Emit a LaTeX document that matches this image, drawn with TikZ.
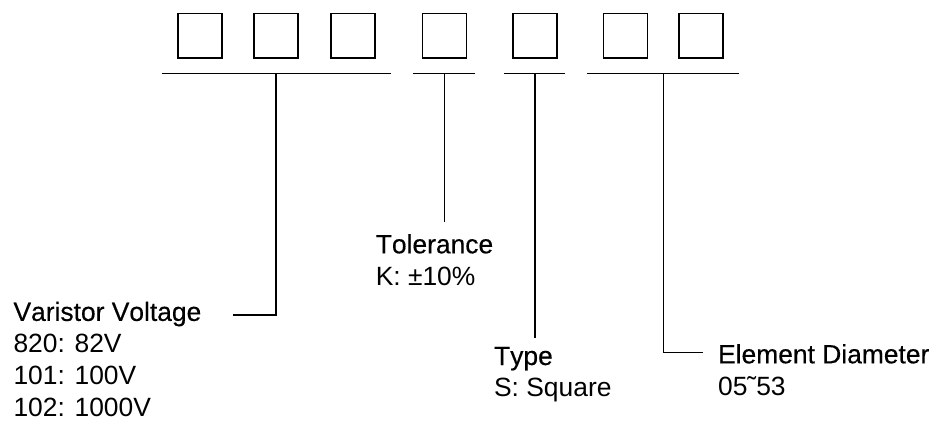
\documentclass[tikz,border=0pt]{standalone}
\usepackage{fontspec}
\setmainfont[Kerning=Off]{Liberation Sans}
\newfontfamily\headfont[Kerning=Off,FakeBold=0.35]{Liberation Sans}
\usetikzlibrary{positioning,calc}
\tikzset{digit/.style={draw, rectangle, minimum width=44pt, minimum height=44.5pt, inner sep=0pt}}
\tikzstyle{lbl}=[anchor=base west, inner sep=0pt, align=left, font=\fontsize{26.4}{31.7}\selectfont]

\begin{document}
\begin{tikzpicture}[x=1pt, y=-1pt, line width=1.6pt]
\useasboundingbox (0,0) rectangle (935,421);
% code boxes
\node[digit] (B1) at (200,35.7) {};
\node[digit][right=30.5pt of B1] (B2) {};
\node[digit][right=31pt of B2] (B3) {};
\node[digit][right=46pt of B3] (B4) {};
\node[digit][right=45pt of B4] (B5) {};
\node[digit][right=45pt of B5] (B6) {};
\node[digit][right=30pt of B6] (B7) {};
% bars under the groups
\coordinate (G1l) at ($(B1.south west)+(-15.5,14.6)$);
\coordinate (G1r) at ($(B3.south east)+(15.5,14.6)$);
\coordinate (G1m) at ($(B2.south)+(0,14.6)$);
\coordinate (G2l) at ($(B4.south west)+(-8.3,14.6)$);
\coordinate (G2r) at ($(B4.south east)+(7.4,14.6)$);
\coordinate (G2m) at ($(B4.south)+(0,14.6)$);
\coordinate (G3l) at ($(B5.south west)+(-8,14.6)$);
\coordinate (G3r) at ($(B5.south east)+(7.3,14.6)$);
\coordinate (G3m) at ($(B5.south)+(0,14.6)$);
\coordinate (G4l) at ($(B6.south west)+(-15.3,14.6)$);
\coordinate (G4r) at ($(B7.south east)+(15,14.6)$);
\coordinate (G4m) at ($(B6.south)!0.5!(B7.south)+(0,14.6)$);
% free ends of the leaders
\coordinate (Vend) at (233.3,315);
\coordinate (Tend) at ($(G2m)+(0,148.4)$);
\coordinate (Yend) at ($(G3m)+(0,265)$);
\coordinate (Eend) at (703.3,352.3);
% labels (base = last line)
\node[lbl] (V) at (12.7,416) {{\headfont Varistor Voltage}\\820: 82V\\101: 100V\\102: 1000V};
\node[lbl] (T) at (375,285) {{\headfont Tolerance}\\K: ±10\%};
\node[lbl] (Y) at (493.3,396.7) {{\headfont Type}\\S: Square};
\node[lbl] (E) at (717.3,395) {{\headfont Element Diameter}\\05˜53};
\draw (G1l) -- (G1r)  (G2l) -- (G2r)  (G3l) -- (G3r)  (G4l) -- (G4r);
\draw (G1m) |- (Vend);
\draw (G2m) -- (Tend);
\draw (G3m) -- (Yend);
\draw (G4m) |- (Eend);
\end{tikzpicture}
\end{document}
